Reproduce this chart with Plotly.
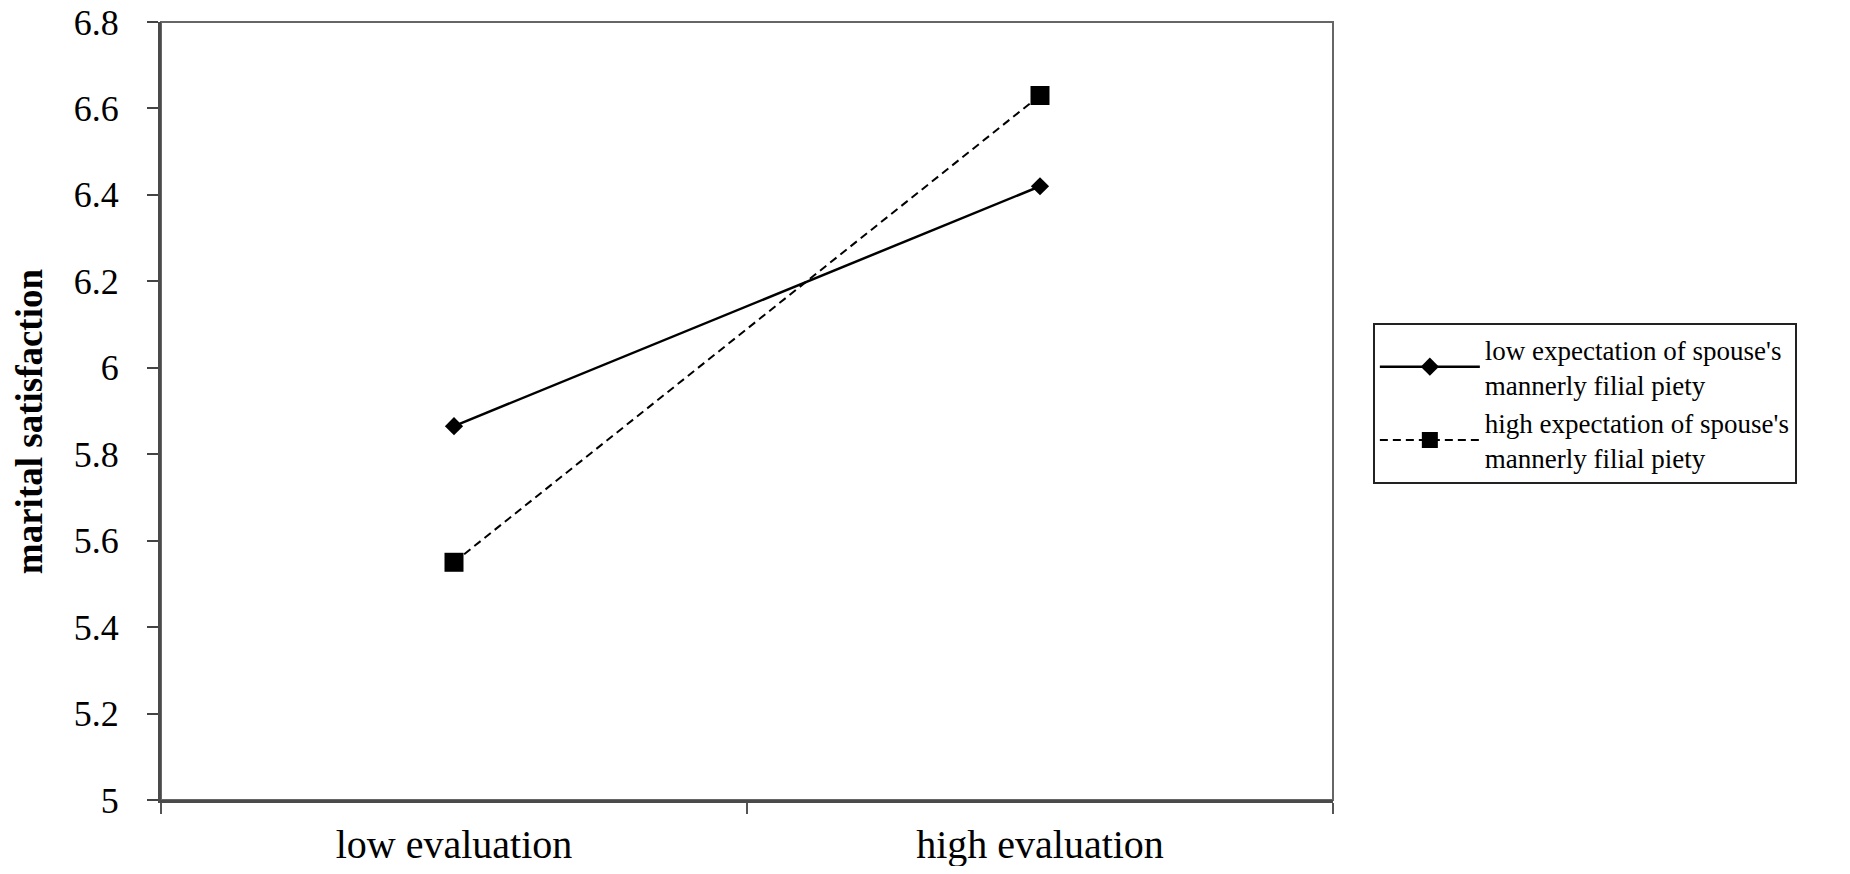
import plotly.graph_objects as go

categories = ["low evaluation", "high evaluation"]
low_expectation = [5.865, 6.42]
high_expectation = [5.55, 6.63]
series_names = [
    "low expectation of spouse's<br>mannerly filial piety",
    "high expectation of spouse's<br>mannerly filial piety",
]
y_ticks = [5, 5.2, 5.4, 5.6, 5.8, 6, 6.2, 6.4, 6.6, 6.8]

FONT = "Liberation Serif, Times New Roman, serif"

fig = go.Figure()
fig.add_trace(go.Scatter(
    x=categories, y=low_expectation, name=series_names[0], mode="lines+markers",
    line=dict(color="black", width=2.5),
    marker=dict(symbol="diamond", size=14, color="black"),
))
fig.add_trace(go.Scatter(
    x=categories, y=high_expectation, name=series_names[1], mode="lines+markers",
    line=dict(color="black", width=2, dash="8px,5px"),
    marker=dict(symbol="square", size=19, color="black"),
))

fig.update_xaxes(
    type="category", range=[-0.5, 1.5], tickson="boundaries",
    ticks="outside", ticklen=11, tickcolor="#555", tickwidth=1.5,
    showline=True, linecolor="#4a4a4a", linewidth=3,
    showgrid=False, zeroline=False, ticklabelstandoff=7,
    ticklabeloverflow="allow", automargin=False,
    tickfont=dict(family=FONT, size=40, color="black"),
)
fig.update_yaxes(
    range=[5, 6.8], tickvals=y_ticks, ticktext=[f"{v:g}" for v in y_ticks],
    ticks="outside", ticklen=11, tickcolor="#444", tickwidth=1.5,
    showline=True, linecolor="#4a4a4a", linewidth=3,
    showgrid=False, zeroline=False, ticklabelstandoff=21,
    ticklabeloverflow="allow", automargin=False,
    tickfont=dict(family=FONT, size=36, color="black"),
)

# thin frame on top and right of the plot area
fig.add_shape(type="rect", xref="paper", yref="paper", x0=0, y0=0, x1=1, y1=1,
              line=dict(color="#666", width=2), layer="below")

fig.add_annotation(
    text="<b>marital satisfaction</b>", xref="paper", yref="paper",
    x=-0.1126, xanchor="center", y=0.487, yanchor="middle",
    textangle=-90, showarrow=False,
    font=dict(family=FONT, size=37, color="black"),
)

# page body keeps its default 8px margin, so the figure is 16px smaller
fig.update_layout(
    width=1834, height=858,
    margin=dict(l=153, r=509, t=14, b=66),
    plot_bgcolor="white", paper_bgcolor="white",
    legend=dict(
        x=1.034, xanchor="left", y=0.613, yanchor="top",
        bordercolor="#222", borderwidth=2, bgcolor="white",
        font=dict(family=FONT, size=27, color="black"),
        tracegroupgap=0, itemwidth=100,
    ),
)

fig.write_html("out.html")
